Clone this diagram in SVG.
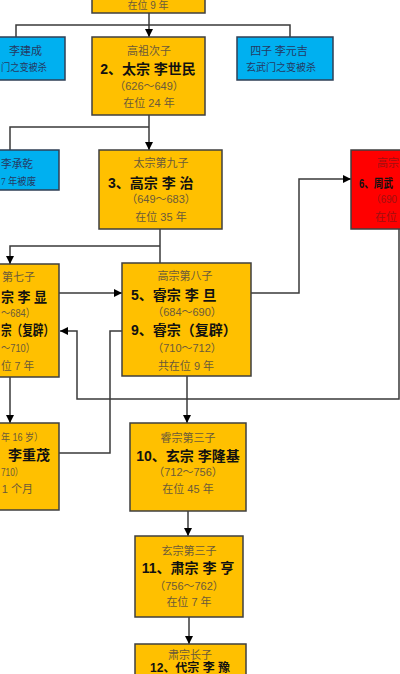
<svg xmlns="http://www.w3.org/2000/svg" width="400" height="674" viewBox="0 0 400 674">
<defs>
<marker id="arr" markerUnits="userSpaceOnUse" markerWidth="8" markerHeight="8" refX="8" refY="4" orient="auto">
<path d="M0,0 L8,4 L0,8 Z" fill="#000"/>
</marker>
<style>
.o{fill:#FFC000;stroke:#3f3f3f;stroke-width:1.5}
.b{fill:#00B0F0;stroke:#2f3f55;stroke-width:1.5}
.r{fill:#FF0000;stroke:#3f3f3f;stroke-width:1.5}
text{font-family:"Liberation Sans","Noto Sans CJK SC",sans-serif}
.n{font-size:11px;fill:#6b5a3a;font-family:"Liberation Serif","Noto Sans CJK SC",serif}
.d{font-size:11px;fill:#6b5a3a}
.k{font-size:14px;font-weight:bold;fill:#111}
.bt{font-size:11px;fill:#243a63;font-family:"Liberation Serif","Noto Sans CJK SC",serif}
.bs{font-size:10px;fill:#243a63;font-family:"Liberation Serif","Noto Sans CJK SC",serif}
.rt{font-size:11px;fill:#a01010}
.c{text-anchor:middle}
.e{text-anchor:end}
.ln{fill:none;stroke:#3a3a3a;stroke-width:1.5}
</style>
</defs>
<g id="connectors" class="ln">
<path d="M16,37 V25 H290 V37"/>
<path d="M149,13 V37" marker-end="url(#arr)"/>
<path d="M10,150 V127 H149"/>
<path d="M149,115 V150" marker-end="url(#arr)"/>
<path d="M160,229 V263"/>
<path d="M160,246 H10 V264" marker-end="url(#arr)"/>
<path d="M47,293 H122" marker-end="url(#arr)"/>
<path d="M251,293 H299 V179 H351" marker-end="url(#arr)"/>
<path d="M399,229 V399 H77 V331 H60" marker-end="url(#arr)"/>
<path d="M122,331 H110 V453 H59"/>
<path d="M10,377 V423" marker-end="url(#arr)"/>
<path d="M187,376 V423" marker-end="url(#arr)"/>
<path d="M188,511 V536" marker-end="url(#arr)"/>
<path d="M189,617 V644" marker-end="url(#arr)"/>
</g>
<g id="gaozu">
<rect class="o" x="92" y="-30" width="113" height="43"/>
<text class="d c" x="148" y="9" style="font-size:10px">在位 9 年</text>
</g>
<g id="lijiancheng">
<rect class="b" x="-40" y="37" width="105" height="43"/>
<text class="bt e" x="42" y="55">李建成</text>
<text class="bs" x="1" y="71" textLength="46" lengthAdjust="spacingAndGlyphs">门之变被杀</text>
</g>
<g id="taizong">
<rect class="o" x="92" y="37" width="113" height="78"/>
<text class="n c" x="149" y="55">高祖次子</text>
<text class="k c" x="148" y="74">2、太宗 李世民</text>
<text class="d c" x="149" y="90">（626～649）</text>
<text class="d c" x="149" y="107">在位 24 年</text>
</g>
<g id="liyuanji">
<rect class="b" x="237" y="37" width="96" height="43"/>
<text class="bt c" x="279" y="55">四子  李元吉</text>
<text class="bs c" x="281" y="71">玄武门之变被杀</text>
</g>
<g id="lichengqian">
<rect class="b" x="-60" y="150" width="119" height="40"/>
<text class="bt" x="1" y="168" textLength="32" lengthAdjust="spacingAndGlyphs">李承乾</text>
<text class="bt" x="1" y="185" textLength="35" lengthAdjust="spacingAndGlyphs" style="font-size:10px">7 年被废</text>
</g>
<g id="gaozong">
<rect class="o" x="99" y="150" width="123" height="79"/>
<text class="n c" x="161" y="167">太宗第九子</text>
<text class="k" x="108" y="188">3、高宗 李 治</text>
<text class="d c" x="161" y="203">（649～683）</text>
<text class="d c" x="161" y="221">在位 35 年</text>
</g>
<g id="wuzetian">
<rect class="r" x="351" y="150" width="100" height="79"/>
<text class="rt" x="377" y="167">高宗</text>
<text class="k" x="359" y="188" style="font-size:12px" textLength="34" lengthAdjust="spacingAndGlyphs">6、周武</text>
<text class="rt" x="371" y="203" style="font-size:10px" textLength="26" lengthAdjust="spacingAndGlyphs">（690</text>
<text class="rt" x="375" y="221">在位</text>
</g>
<g id="zhongzong">
<rect class="o" x="-80" y="264" width="139" height="113"/>
<text class="n e" x="35" y="281">第七子</text>
<text class="k" x="1" y="302" textLength="46" lengthAdjust="spacingAndGlyphs">宗 李 显</text>
<text class="d" x="1" y="317" textLength="34" lengthAdjust="spacingAndGlyphs">～684）</text>
<text class="k" x="1" y="335" textLength="53" lengthAdjust="spacingAndGlyphs">宗（复辟）</text>
<text class="d" x="1" y="352" textLength="34" lengthAdjust="spacingAndGlyphs">～710）</text>
<text class="d" x="1" y="370" textLength="33" lengthAdjust="spacingAndGlyphs">位 7 年</text>
</g>
<g id="ruizong">
<rect class="o" x="122" y="263" width="129" height="113"/>
<text class="n c" x="185" y="280">高宗第八子</text>
<text class="k" x="131" y="300">5、睿宗 李 旦</text>
<text class="d c" x="187" y="316">（684～690）</text>
<text class="k" x="131" y="335">9、睿宗（复辟）</text>
<text class="d c" x="187" y="352">（710～712）</text>
<text class="d c" x="186" y="370">共在位 9 年</text>
</g>
<g id="shaodi">
<rect class="o" x="-80" y="423" width="139" height="87"/>
<text class="d" x="1" y="441" style="font-size:10px" textLength="42" lengthAdjust="spacingAndGlyphs">年 16 岁）</text>
<text class="k e" x="50" y="460">李重茂</text>
<text class="d" x="1" y="476" style="font-size:10px" textLength="22" lengthAdjust="spacingAndGlyphs">710）</text>
<text class="d e" x="33" y="493">1 个月</text>
</g>
<g id="xuanzong">
<rect class="o" x="130" y="423" width="116" height="88"/>
<text class="n c" x="188" y="442">睿宗第三子</text>
<text class="k c" x="188" y="461">10、玄宗 李隆基</text>
<text class="d c" x="188" y="476">（712～756）</text>
<text class="d c" x="188" y="493">在位 45 年</text>
</g>
<g id="suzong">
<rect class="o" x="135" y="536" width="108" height="81"/>
<text class="n c" x="189" y="555">玄宗第三子</text>
<text class="k c" x="188" y="573">11、肃宗 李 亨</text>
<text class="d c" x="189" y="590">（756～762）</text>
<text class="d c" x="189" y="606">在位 7 年</text>
</g>
<g id="daizong">
<rect class="o" x="135" y="644" width="111" height="60"/>
<text class="n c" x="190" y="659">肃宗长子</text>
<text class="k c" x="190" y="672" style="font-size:12px">12、代宗 李 豫</text>
</g>
</svg>
